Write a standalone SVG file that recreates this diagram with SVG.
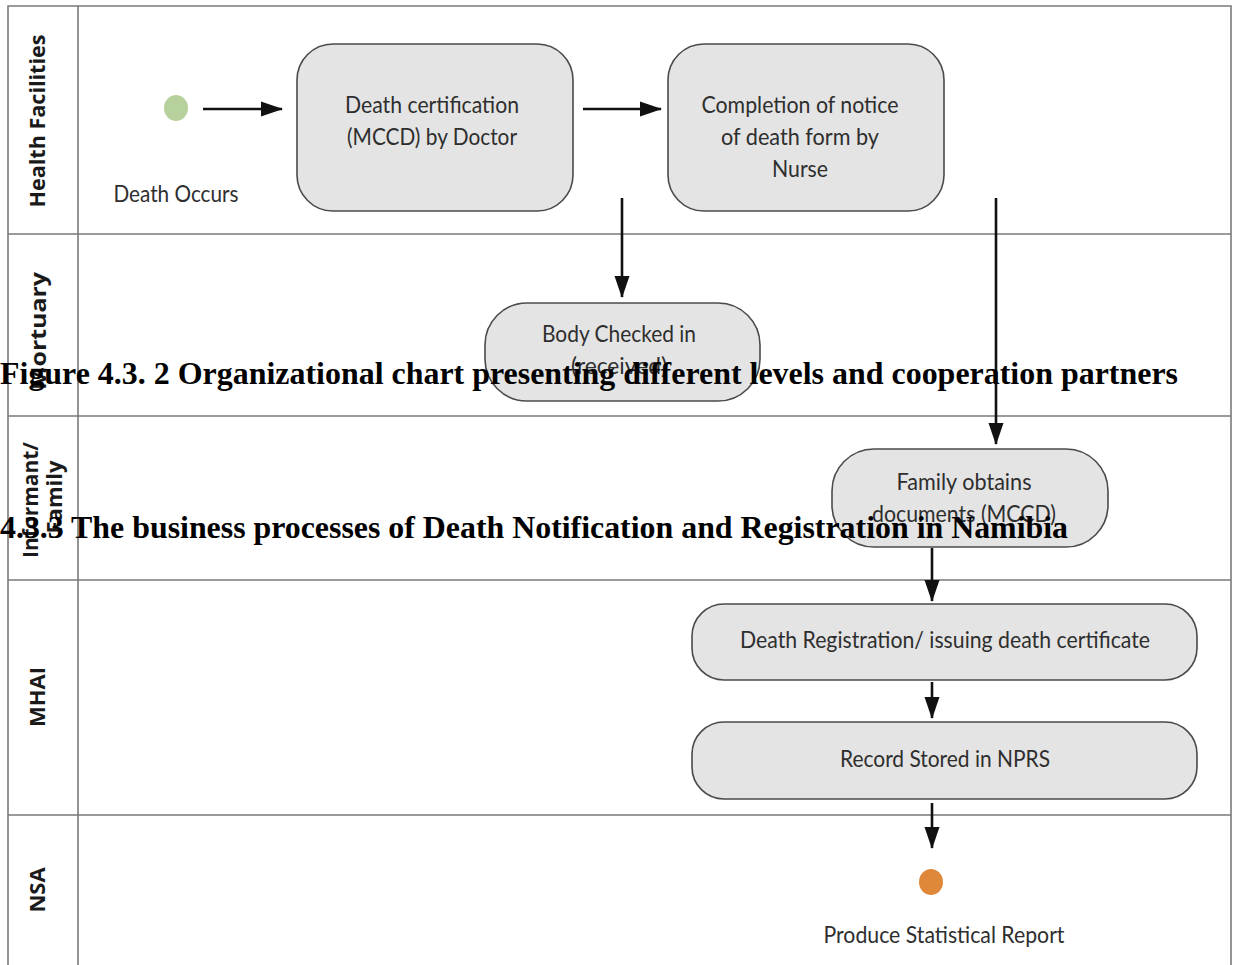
<svg xmlns="http://www.w3.org/2000/svg" width="1237" height="965" viewBox="0 0 1237 965">
  <defs>
    <marker id="arrow" markerUnits="userSpaceOnUse" markerWidth="24" markerHeight="18" refX="21" refY="9" orient="auto">
      <path d="M0,1.5 L22,9 L0,16.5 z" fill="#111"/>
    </marker>
    <style>
      .grid { stroke: #7a7a7a; stroke-width: 1.6; fill: none; }
      .lane { font-family: "Open Sans", "Liberation Sans", sans-serif; font-weight: 700; font-size: 22px; fill: #1a1a1a; text-anchor: middle; }
      .box { fill: #e4e4e4; stroke: #4a4a4a; stroke-width: 1.6; }
      .label { font-family: Lato, "Liberation Sans", sans-serif; font-size: 23px; fill: #2e2e2e; text-anchor: middle; }
      .flow { stroke: #111; stroke-width: 2.6; fill: none; marker-end: url(#arrow); }
      .title { font-family: "Liberation Serif", "Times New Roman", serif; font-weight: 700; font-size: 32px; fill: #000; }
    </style>
  </defs>

  <rect width="1237" height="965" fill="#ffffff"/>

  <!-- swimlane grid -->
  <g id="lanes">
    <path class="grid" d="M8,965 V6 H1231 V965"/>
    <path class="grid" d="M78,6 V965"/>
    <path class="grid" d="M8,234 H1231 M8,416 H1231 M8,580 H1231 M8,815 H1231"/>
    <text class="lane" transform="translate(45,121) rotate(-90)" textLength="173" lengthAdjust="spacingAndGlyphs">Health Facilities</text>
    <text class="lane" transform="translate(46,331) rotate(-90)" textLength="118" lengthAdjust="spacingAndGlyphs">Mortuary</text>
    <text class="lane" transform="translate(38,500) rotate(-90)" textLength="116" lengthAdjust="spacingAndGlyphs">Informant/</text>
    <text class="lane" transform="translate(62,497) rotate(-90)">Family</text>
    <text class="lane" transform="translate(45,697) rotate(-90)">MHAI</text>
    <text class="lane" transform="translate(45,890) rotate(-90)">NSA</text>
  </g>

  <!-- connectors -->
  <g id="connectors">
    <line class="flow" x1="203" y1="109" x2="282" y2="109"/>
    <line class="flow" x1="583" y1="109" x2="661" y2="109"/>
    <line class="flow" x1="622" y1="198" x2="622" y2="297"/>
    <line class="flow" x1="996" y1="198" x2="996" y2="444"/>
    <line class="flow" x1="932" y1="548" x2="932" y2="601"/>
    <line class="flow" x1="932" y1="682" x2="932" y2="718"/>
    <line class="flow" x1="932" y1="803" x2="932" y2="848"/>
  </g>

  <!-- start event -->
  <g id="start">
    <ellipse cx="176" cy="108" rx="12" ry="13" fill="#b6d19c"/>
    <text class="label" x="176" y="202" textLength="125" lengthAdjust="spacingAndGlyphs">Death Occurs</text>
  </g>

  <g id="certification">
    <rect class="box" x="297" y="44" width="276" height="167" rx="36"/>
    <text class="label" x="432" y="113" textLength="174" lengthAdjust="spacingAndGlyphs">Death certification</text>
    <text class="label" x="432" y="145" textLength="170" lengthAdjust="spacingAndGlyphs">(MCCD) by Doctor</text>
  </g>

  <g id="notice">
    <rect class="box" x="668" y="44" width="276" height="167" rx="36"/>
    <text class="label" x="800" y="113" textLength="197" lengthAdjust="spacingAndGlyphs">Completion of notice</text>
    <text class="label" x="800" y="145" textLength="158" lengthAdjust="spacingAndGlyphs">of death form by</text>
    <text class="label" x="800" y="177" textLength="56" lengthAdjust="spacingAndGlyphs">Nurse</text>
  </g>

  <g id="body-checked">
    <rect class="box" x="485" y="303" width="275" height="98" rx="42"/>
    <text class="label" x="619" y="342" textLength="154" lengthAdjust="spacingAndGlyphs">Body Checked in</text>
    <text class="label" x="619" y="374" textLength="96" lengthAdjust="spacingAndGlyphs">(received)</text>
  </g>

  <g id="family-documents">
    <rect class="box" x="832" y="449" width="276" height="98" rx="42"/>
    <text class="label" x="964" y="490" textLength="135" lengthAdjust="spacingAndGlyphs">Family obtains</text>
    <text class="label" x="964" y="522" textLength="184" lengthAdjust="spacingAndGlyphs">documents (MCCD)</text>
  </g>

  <g id="registration">
    <rect class="box" x="692" y="604" width="505" height="76" rx="32"/>
    <text class="label" x="945" y="648" textLength="410" lengthAdjust="spacingAndGlyphs">Death Registration/ issuing death certificate</text>
  </g>

  <g id="npr-record">
    <rect class="box" x="692" y="722" width="505" height="77" rx="32"/>
    <text class="label" x="945" y="767" textLength="210" lengthAdjust="spacingAndGlyphs">Record Stored in NPRS</text>
  </g>

  <g id="end">
    <ellipse cx="931" cy="882" rx="12" ry="13" fill="#e0883a"/>
    <text class="label" x="944" y="943" textLength="241" lengthAdjust="spacingAndGlyphs">Produce Statistical Report</text>
  </g>

  <!-- headings printed across the chart -->
  <g id="headings">
    <text class="title" x="0" y="384" textLength="1178" lengthAdjust="spacingAndGlyphs">Figure 4.3. 2 Organizational chart presenting different levels and cooperation partners</text>
    <text class="title" x="0" y="538" textLength="1068" lengthAdjust="spacingAndGlyphs">4.3.3 The business processes of Death Notification and Registration in Namibia</text>
  </g>
</svg>
